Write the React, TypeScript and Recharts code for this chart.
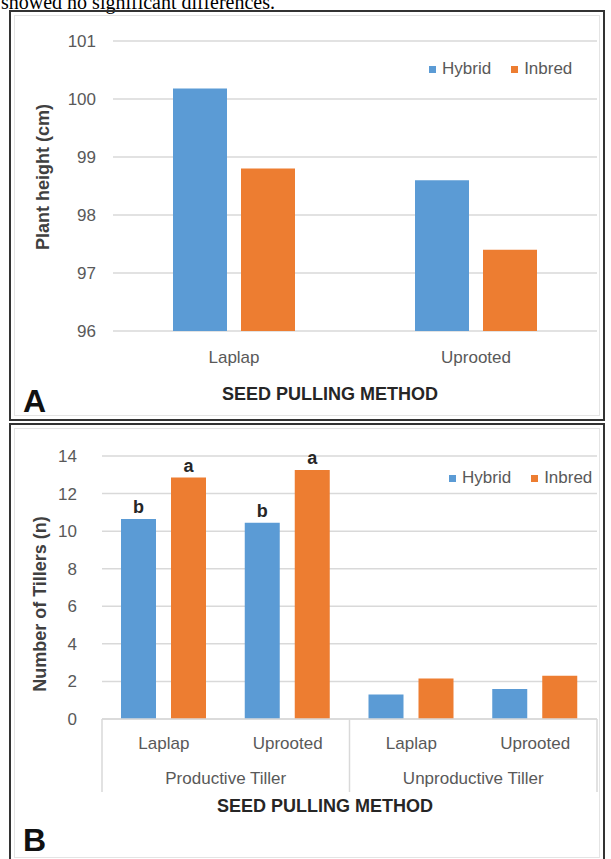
import React from 'react';
import { BarChart, Bar, XAxis, YAxis, CartesianGrid, Legend, LabelList } from 'recharts';

// ---------- data ----------
const methodsA = ['Laplap', 'Uprooted'];
const hybridA = [100.18, 98.6];
const inbredA = [98.8, 97.4];
const ticksA = [96, 97, 98, 99, 100, 101];

const methodsB = ['Laplap', 'Uprooted', 'Laplap', 'Uprooted'];
const groupsB = ['Productive Tiller', 'Productive Tiller', 'Unproductive Tiller', 'Unproductive Tiller'];
const hybridB = [10.65, 10.45, 1.3, 1.6];
const inbredB = [12.85, 13.25, 2.15, 2.3];
const hybridLetters = ['b', 'b', '', ''];
const inbredLetters = ['a', 'a', '', ''];
const ticksB = [0, 2, 4, 6, 8, 10, 12, 14];

const seriesNames = ['Hybrid', 'Inbred'];
const seriesColors = ['#5B9BD5', '#ED7D31'];

const dataA = methodsA.map((m, i) => ({ method: m, Hybrid: hybridA[i], Inbred: inbredA[i] }));
const dataB = methodsB.map((m, i) => ({
  method: m,
  group: groupsB[i],
  Hybrid: hybridB[i],
  Inbred: inbredB[i],
  hl: hybridLetters[i],
  il: inbredLetters[i],
}));

const FONT = '"Liberation Sans", Arial, sans-serif';
const TEXT = '#595959';
const GRID = '#d9d9d9';

const LegendContent = () => (
  <div style={{ display: 'flex', alignItems: 'center', fontFamily: FONT, fontSize: 17, color: TEXT, whiteSpace: 'nowrap' }}>
    {seriesNames.map((n, i) => (
      <div key={n} style={{ display: 'flex', alignItems: 'center', marginLeft: i ? 20 : 0 }}>
        <span style={{ width: 7, height: 7, background: seriesColors[i], display: 'inline-block', marginRight: 6 }} />
        <span>{n}</span>
      </div>
    ))}
  </div>
);

const MethodTickB = (props: any) => {
  const { x, y, payload, index, visibleTicksCount, width } = props;
  let half = payload && typeof payload.offset === 'number' && payload.offset > 3 ? payload.offset : 0;
  if (!half && width && visibleTicksCount) half = width / visibleTicksCount / 2;
  if (!half) half = 62;
  const count = visibleTicksCount || methodsB.length;
  const top = y - 18;
  const showGroup = index === 0 || groupsB[index] !== groupsB[index - 1];
  return (
    <g>
      <text x={x} y={y} dy="0.71em" textAnchor="middle" fill={TEXT} fontSize={17} fontFamily={FONT}>
        {payload.value}
      </text>
      {showGroup && <line x1={x - half} x2={x - half} y1={top} y2={top + 73} stroke={GRID} strokeWidth={1.5} />}
      {index === count - 1 && <line x1={x + half} x2={x + half} y1={top} y2={top + 73} stroke={GRID} strokeWidth={1.5} />}
      {showGroup && (
        <text x={x + half} y={y + 47} textAnchor="middle" fill={TEXT} fontSize={17} fontFamily={FONT}>
          {groupsB[index]}
        </text>
      )}
    </g>
  );
};

const frame: React.CSSProperties = {
  position: 'absolute',
  left: 9,
  width: 596,
  border: '2px solid #333',
  boxSizing: 'border-box',
};

const inner: React.CSSProperties = {
  position: 'absolute',
  left: 3,
  top: 3,
  right: 3,
  bottom: 3,
  border: '1px solid #e4e4e4',
};

const axisTitle: React.CSSProperties = {
  position: 'absolute',
  fontFamily: FONT,
  fontWeight: 700,
  fontSize: 18,
  color: '#404040',
  whiteSpace: 'nowrap',
  transform: 'translate(-50%, -50%) rotate(-90deg)',
};

const xTitle: React.CSSProperties = {
  position: 'absolute',
  fontFamily: FONT,
  fontWeight: 700,
  fontSize: 18,
  color: '#262626',
  whiteSpace: 'nowrap',
  transform: 'translateX(-50%)',
  lineHeight: '20px',
};

const panelLetter: React.CSSProperties = {
  position: 'absolute',
  fontFamily: FONT,
  fontWeight: 700,
  fontSize: 32,
  color: '#111',
  lineHeight: '32px',
};

// Legend reserves its own height (22px) at the bottom of the plot, so bottom margins account for it.
export default function App() {
  return (
    <div style={{ position: 'absolute', left: 0, top: 0, width: 611, height: 859, overflow: 'hidden', background: '#fff' }}>
      <div
        style={{
          position: 'absolute',
          left: 1,
          top: -8,
          fontFamily: '"Liberation Serif", "Times New Roman", serif',
          fontSize: 20,
          lineHeight: '20px',
          color: '#000',
          whiteSpace: 'nowrap',
        }}
      >
        showed no significant differences.
      </div>

      {/* Panel A */}
      <div style={{ ...frame, top: 10, height: 411 }}>
        <div style={inner} />
      </div>
      <div style={{ position: 'absolute', left: 0, top: 0, width: 611, height: 420 }}>
        <BarChart width={611} height={420} data={dataA} margin={{ top: 41, right: 14, left: 53, bottom: 37 }} barSize={54} barGap={14}>
          <CartesianGrid vertical={false} stroke={GRID} strokeWidth={1.5} />
          <XAxis dataKey="method" height={30} tickSize={0} tickMargin={20} axisLine={false} tickLine={false} tick={{ fill: TEXT, fontSize: 17, fontFamily: FONT }} />
          <YAxis width={60} domain={[96, 101]} ticks={ticksA} tickSize={0} tickMargin={17} axisLine={false} tickLine={false} tick={{ fill: TEXT, fontSize: 17, fontFamily: FONT }} />
          <Legend content={<LegendContent />} wrapperStyle={{ position: 'absolute', left: 429, top: 59, width: 200, height: 22 }} />
          <Bar dataKey="Hybrid" fill={seriesColors[0]} isAnimationActive={false} />
          <Bar dataKey="Inbred" fill={seriesColors[1]} isAnimationActive={false} />
        </BarChart>
      </div>
      <div style={{ ...axisTitle, left: 43, top: 177 }}>Plant height (cm)</div>
      <div style={{ ...xTitle, left: 330, top: 384 }}>SEED PULLING METHOD</div>
      <div style={{ ...panelLetter, left: 23, top: 385 }}>A</div>

      {/* Panel B */}
      <div style={{ ...frame, top: 423, height: 440 }}>
        <div style={inner} />
      </div>
      <div style={{ position: 'absolute', left: 0, top: 423, width: 611, height: 436 }}>
        <BarChart width={611} height={436} data={dataB} margin={{ top: 33, right: 14, left: 52, bottom: 58 }} barSize={35} barGap={15}>
          <CartesianGrid vertical={false} stroke={GRID} strokeWidth={1.5} />
          <XAxis dataKey="method" height={60} interval={0} tickSize={0} tickMargin={18} axisLine={{ stroke: GRID, strokeWidth: 1.5 }} tickLine={false} tick={<MethodTickB />} />
          <YAxis width={50} domain={[0, 14]} ticks={ticksB} tickSize={0} tickMargin={25} axisLine={false} tickLine={false} tick={{ fill: TEXT, fontSize: 17, fontFamily: FONT }} />
          <Legend content={<LegendContent />} wrapperStyle={{ position: 'absolute', left: 449, top: 45, width: 200, height: 22 }} />
          <Bar dataKey="Hybrid" fill={seriesColors[0]} isAnimationActive={false}>
            <LabelList dataKey="hl" position="top" offset={6} style={{ fontWeight: 700, fontSize: 18, fill: '#262626', fontFamily: FONT }} />
          </Bar>
          <Bar dataKey="Inbred" fill={seriesColors[1]} isAnimationActive={false}>
            <LabelList dataKey="il" position="top" offset={6} style={{ fontWeight: 700, fontSize: 18, fill: '#262626', fontFamily: FONT }} />
          </Bar>
        </BarChart>
      </div>
      <div style={{ ...axisTitle, left: 40, top: 604 }}>Number of Tillers (n)</div>
      <div style={{ ...xTitle, left: 325, top: 796 }}>SEED PULLING METHOD</div>
      <div style={{ ...panelLetter, left: 23, top: 824 }}>B</div>
    </div>
  );
}
